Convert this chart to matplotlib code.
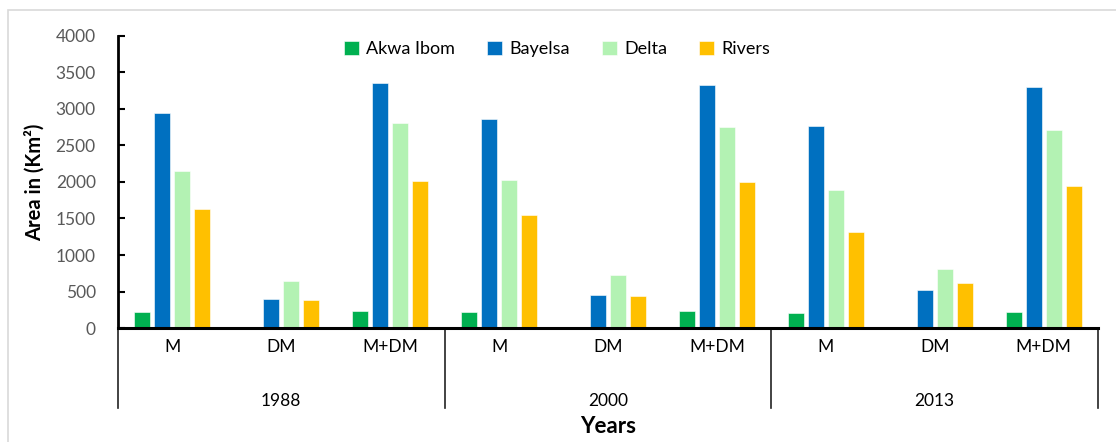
import numpy as np
import matplotlib.pyplot as plt
from matplotlib.lines import Line2D
from matplotlib.patches import Rectangle

plt.rcParams['font.family'] = ['Lato', 'DejaVu Sans']

# mangrove area per state, ordered M, DM, M+DM for each year
years = ['1988', '2000', '2013']
classes = ['M', 'DM', 'M+DM']
akwa_ibom = [214, 10, 233, 219, 15, 237, 205, 15, 219]
bayelsa = [2947, 397, 3353, 2865, 452, 3326, 2765, 525, 3298]
delta = [2149, 648, 2806, 2026, 721, 2755, 1893, 812, 2714]
rivers = [1629, 383, 2016, 1547, 443, 1998, 1318, 620, 1948]

series = [('Akwa Ibom', akwa_ibom, '#00B050'),
          ('Bayelsa', bayelsa, '#0070C0'),
          ('Delta', delta, '#B3F2B3'),
          ('Rivers', rivers, '#FFC000')]

fig = plt.figure(figsize=(11.16, 4.42), dpi=100)
ax = fig.add_axes([0.1057, 0.2579, 0.8782, 0.6607])

x = np.arange(len(akwa_ibom))
slot = 0.184
width = 0.147
for i, (name, vals, col) in enumerate(series):
    ax.bar(x + (i - 1.5) * slot, vals, width, color=col, label=name,
           edgecolor='white', linewidth=0.4)

ax.set_xlim(-0.5, len(x) - 0.5)
ax.set_ylim(0, 4000)
ax.set_yticks(np.arange(0, 4001, 500))
ax.tick_params(axis='y', direction='in', length=5, width=1.5, pad=16,
               labelsize=12.5, labelcolor='#595959')
ax.set_xticks([])
for s in ['top', 'right']:
    ax.spines[s].set_visible(False)
ax.spines['left'].set_linewidth(2)
ax.spines['bottom'].set_linewidth(2.2)

ax.set_ylabel('Area in (Km²)', fontsize=14.5, fontweight='bold', labelpad=8)

# two-level category axis
trans = ax.get_xaxis_transform()
for i, xi in enumerate(x):
    ax.text(xi, -0.065, classes[i % 3], transform=trans, ha='center', va='center',
            fontsize=12.5, color='black')
for j, yr in enumerate(years):
    ax.text(3 * j + 1, -0.25, yr, transform=trans, ha='center', va='center',
            fontsize=12.5, color='black')
for b in [-0.5, 2.5, 5.5, 8.5]:
    ax.add_line(Line2D([b, b], [0, -0.274], transform=trans, color='#222222',
                       linewidth=1.2, clip_on=False))

fig.text(0.545, 0.035, 'Years', ha='center', va='center', fontsize=16,
         fontweight='bold')

ax.legend(loc='upper center', bbox_to_anchor=(0.448, 1.04), ncol=4, frameon=False,
          fontsize=13, handlelength=0.85, handleheight=0.85, handletextpad=0.4,
          columnspacing=1.75)

# light chart-area frame
fig.add_artist(Rectangle((8 / 1116, -0.1), 1.2, 1.1 - 10 / 442, transform=fig.transFigure,
                         fill=False, edgecolor='#D9D9D9', linewidth=1.2))

fig.savefig('out.png', dpi=100)
